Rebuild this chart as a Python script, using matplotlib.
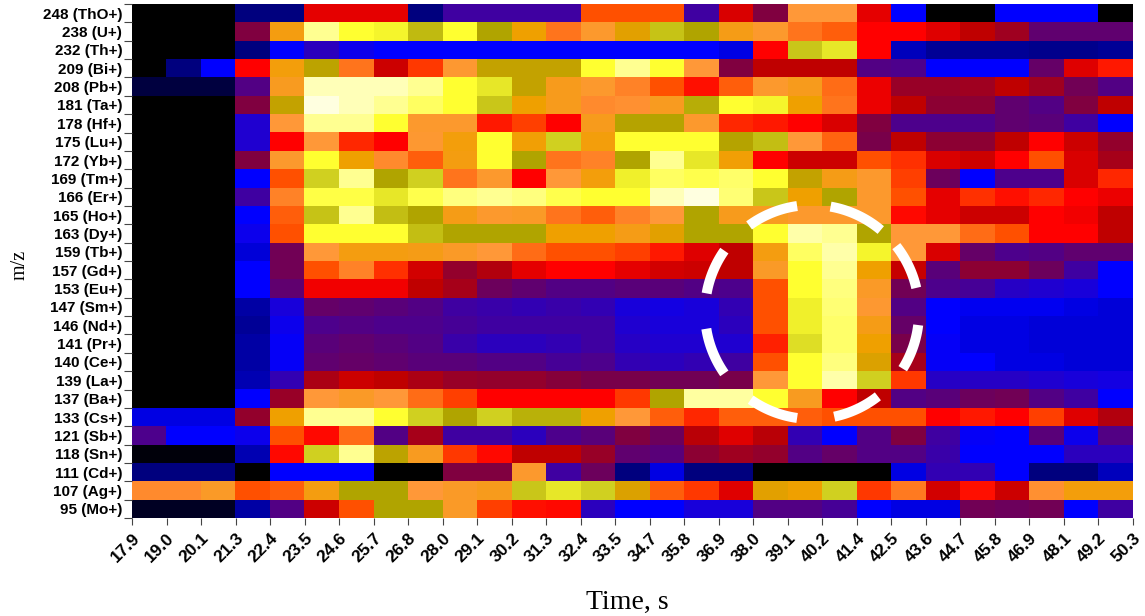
import numpy as np
import matplotlib.pyplot as plt
from matplotlib.colors import LinearSegmentedColormap

plt.rcParams['font.family'] = ['Liberation Sans', 'DejaVu Sans']

times = ['17.9', '19.0', '20.1', '21.3', '22.4', '23.5', '24.6', '25.7', '26.8', '28.0',
         '29.1', '30.2', '31.3', '32.4', '33.5', '34.7', '35.8', '36.9', '38.0', '39.1',
         '40.2', '41.4', '42.5', '43.6', '44.7', '45.8', '46.9', '48.1', '49.2', '50.3']

ions = ['248 (ThO+)', '238 (U+)', '232 (Th+)', '209 (Bi+)', '208 (Pb+)', '181 (Ta+)', '178 (Hf+)',
        '175 (Lu+)', '172 (Yb+)', '169 (Tm+)', '166 (Er+)', '165 (Ho+)', '163 (Dy+)', '159 (Tb+)',
        '157 (Gd+)', '153 (Eu+)', '147 (Sm+)', '146 (Nd+)', '141 (Pr+)', '140 (Ce+)', '139 (La+)',
        '137 (Ba+)', '133 (Cs+)', '121 (Sb+)', '118 (Sn+)', '111 (Cd+)', '107 (Ag+)', '95 (Mo+)']

# intensity levels, one row per ion, on the colour scale below
intensity = [
    [0, 0, 0, 1, 1, 5.6, 5.6, 5.6, 1, 3, 3, 3, 3, 7, 7, 7, 3, 5.4, 4, 8, 8, 5.6, 2, 0, 0, 2, 2, 2, 0],
    [0, 0, 0, 4, 8.7, 13, 12, 11.8, 10.5, 12, 10, 9, 7.5, 8.2, 9.2, 10.7, 10, 8.6, 8.2, 7.5, 7.2, 6, 6, 5.5, 5, 4.5, 3.5, 3.5, 3.5],
    [0, 0, 0, 1, 2, 2.7, 2.2, 2, 2, 2, 2, 2, 2, 2, 2, 2, 2, 1.8, 6, 10.8, 11.5, 6, 1.5, 1.2, 1.2, 1.2, 1.1, 1.1, 1.2],
    [0, 1, 2, 6, 8.8, 9.8, 7.5, 5.2, 6.7, 8.1, 9.7, 9.7, 9.7, 12, 13, 12, 8, 4, 5, 5, 5, 3.3, 3.2, 2, 2, 2, 3.6, 5.5, 6.3],
    [0.5, 0.5, 0.5, 3.3, 8.4, 13.5, 13.5, 13.5, 13, 12, 11.5, 9.7, 8.5, 8.2, 7.7, 7, 6.2, 7.2, 8.2, 8.5, 7.4, 5.7, 4.4, 4.4, 4.5, 5, 4.5, 3.8, 3.3],
    [0, 0, 0, 4, 9.7, 14, 13.5, 13, 12.5, 12, 10.8, 9, 8.5, 7.8, 7.9, 8.4, 10.2, 12, 11.8, 9, 7.5, 5.7, 5, 4.2, 4.2, 3.5, 3.3, 4, 5],
    [0, 0, 0, 2.5, 8, 13, 13, 12, 8.2, 8.2, 6.3, 6.8, 6, 8.5, 9.9, 9.9, 8.2, 6.5, 6.3, 6, 5.4, 4, 3.2, 3.2, 3.2, 3.5, 3.4, 3, 2],
    [0, 0, 0, 2.5, 6, 8, 6.5, 6, 8.1, 8.8, 12, 8.9, 11, 8.8, 12, 12, 12, 9.9, 10.6, 8, 7.3, 3.9, 5, 4.2, 4.2, 5, 6, 5.2, 4.3],
    [0, 0, 0, 4, 8.2, 12, 9, 7.8, 7.2, 8.7, 12, 10, 7.5, 7.7, 10, 13, 11.5, 8.9, 6, 5.2, 5.2, 7, 6.6, 5.4, 5.2, 6, 7, 5.4, 4.6],
    [0, 0, 0, 2, 7, 11, 13, 10, 11, 7.5, 8.2, 6, 8, 8.8, 11.7, 12.5, 12.3, 12.6, 12, 9.7, 8.6, 8.2, 6.8, 3.7, 2, 3.2, 3.2, 5.4, 6.5],
    [0, 0, 0, 3, 7.7, 12.2, 12.2, 11.5, 12.3, 12.8, 13, 12.8, 12.3, 12, 12, 13.5, 14, 12.7, 10.8, 9, 10, 8.2, 7, 5.6, 6.6, 6.2, 6.5, 6, 5.7],
    [0, 0, 0, 2, 7.2, 10.7, 13, 10.6, 10, 8.6, 8.2, 8.3, 7.5, 7.2, 7.7, 8, 10, 8.5, 8.4, 8.2, 8.2, 8.2, 6.1, 5.6, 5.2, 5.2, 6, 5.8, 5],
    [0, 0, 0, 2.2, 7, 12, 12, 12, 10.6, 10, 10, 10, 9, 9, 8.6, 9.2, 10, 10, 12, 13.3, 13, 10, 8, 8, 7.4, 7, 6, 6, 5],
    [0, 0, 0, 1.7, 3.8, 8, 8.7, 8.7, 8.6, 8.3, 8, 7.4, 7, 7, 6.8, 6.3, 5.5, 5, 8.7, 12.5, 13.3, 11.8, 8, 5.4, 3.6, 3.2, 3.3, 3.5, 3.5],
    [0, 0, 0, 2, 3.8, 7, 7.7, 6.6, 5.3, 4.3, 4.8, 5.6, 6, 6, 5.6, 5.3, 5.2, 5, 8.3, 12, 13, 9, 5.1, 3.4, 4.2, 4.2, 3.7, 3, 2],
    [0, 0, 0, 2, 3.5, 5.8, 5.8, 5.8, 5, 4.6, 3.7, 3.5, 3.3, 3.3, 3.4, 3.4, 3.3, 3.2, 7, 12, 12.8, 8.3, 3.8, 3.2, 3.1, 2.6, 2.5, 2.4, 2],
    [0, 0, 0, 1.3, 2.4, 3.6, 3.5, 3.4, 3.3, 3, 2.9, 2.8, 2.9, 2.8, 2.4, 2.3, 2.4, 2.8, 7, 11.7, 12.7, 8.1, 3.3, 2, 1.9, 1.9, 1.9, 1.8, 1.7],
    [0, 0, 0, 1.2, 2.2, 3.2, 3.3, 3.2, 3.2, 3.1, 3, 3, 3, 3, 2.5, 2.4, 2.4, 2.7, 7, 11.7, 12.6, 8.6, 3.6, 2, 1.8, 1.8, 1.7, 1.7, 1.7],
    [0, 0, 0, 1.3, 2.1, 3.4, 3.5, 3.4, 3.3, 2.9, 2.7, 2.7, 2.8, 3, 2.6, 2.5, 2.5, 2.5, 6.4, 11.3, 12.6, 9, 3.9, 2.1, 1.8, 1.8, 1.7, 1.7, 1.7],
    [0, 0, 0, 1.3, 2.1, 3.5, 3.6, 3.5, 3.4, 3.4, 3.3, 3.3, 3.1, 3.2, 2.8, 2.7, 2.8, 3, 7, 12, 12.8, 9.3, 4.6, 2.1, 2, 1.8, 1.8, 1.7, 1.7],
    [0, 0, 0, 1.4, 2.8, 4.7, 5.2, 5, 4.7, 4.4, 4.3, 4.3, 4.1, 3.9, 3.9, 3.8, 3.8, 3.9, 8, 12, 13.3, 11, 6.7, 2.6, 2.6, 2.6, 2.5, 2.4, 2.3],
    [0, 0, 0, 2, 4.4, 8, 8.3, 8, 7.4, 6.8, 6, 6, 6, 6, 6.7, 10, 13.2, 13.2, 12, 8.4, 6, 5, 3.3, 3.4, 3.7, 3.8, 3.3, 3, 2],
    [1.8, 1.8, 1.8, 4.3, 9, 13, 13, 12, 11, 10, 11, 10.3, 10.3, 9, 8, 7.2, 6.5, 7.2, 7.2, 7.2, 7, 7, 7, 6, 6.3, 6, 6.8, 5.5, 4.8],
    [3.2, 2, 2, 2.2, 7, 6.1, 7.4, 3.3, 4.6, 3, 3, 2.7, 3.2, 3.4, 4, 3.7, 4.9, 5.5, 4.9, 2.8, 2, 3.3, 4, 3, 2.1, 2, 3.4, 2.2, 3.3],
    [0.1, 0.1, 0.1, 1.4, 6.1, 11, 13, 9.8, 8.4, 6.7, 6.1, 5, 5, 4.4, 3.5, 3.4, 4.2, 4.5, 4.3, 3.3, 3.6, 3.3, 3.3, 2.9, 2, 2, 2, 2.7, 2.7],
    [1, 1, 1, 0, 2, 2, 2, 0, 0, 4, 4, 8.2, 3, 3.7, 1, 1.8, 1, 1, 0, 0, 0, 0, 1.8, 2.8, 2.8, 2, 1, 1, 1.5],
    [7.8, 7.8, 8.3, 7, 7.2, 8.7, 10, 10, 8, 8.3, 8.5, 10.8, 11.5, 11, 9.3, 7.2, 6.7, 5.5, 9.2, 9, 11, 6.7, 7.6, 5.3, 6.2, 5.2, 7.9, 8.8, 8.8],
    [0.3, 0.3, 0.3, 1.3, 3.3, 5.2, 7, 10, 10, 8.3, 6.8, 6.2, 6.1, 2.7, 2, 2, 2.4, 2.4, 3.3, 3.3, 3.1, 2, 1.8, 1.8, 3.8, 3.7, 3.8, 2, 3],
]

# colour scale, one colour per level 0..14
scale_colors = ['#000000', '#000080', '#0000ff', '#4000a0', '#800040', '#c00000', '#ff0000',
                '#ff5000', '#ff9838', '#f0a000', '#b0a400', '#d0d020', '#ffff30', '#ffff90', '#ffffe0']

# white dashed ring drawn over the figure: centre and radius in pixels, dash ends in degrees
ring_center = (812, 312)
ring_radius = 107
ring_dashes = [(13, 38), (50, 80), (98, 126), (145, 170), (189, 215), (235, 262), (282, 308), (328, 353)]

cmap = LinearSegmentedColormap.from_list('ms', scale_colors, N=512)

W, H = 1145, 616
fig = plt.figure(figsize=(W / 100, H / 100), dpi=100)
ax = fig.add_axes([132 / W, 1 - 518 / H, (1133 - 132) / W, (518 - 4) / H])

data = np.array(intensity)
ax.imshow(data, cmap=cmap, vmin=0, vmax=14, aspect='auto', interpolation='nearest',
          extent=(0, data.shape[1], data.shape[0], 0))

for s in ax.spines.values():
    s.set_visible(False)

ax.set_xticks(np.arange(len(times)))
ax.set_xticklabels(times, rotation=45, ha='right', rotation_mode='anchor',
                   fontsize=12.5, fontweight='bold')
ax.tick_params(axis='x', length=5, width=0.8, color='#444444', pad=4)

# y ticks sit on the row edges, labels in the middle of the rows
ax.set_yticks(np.arange(len(ions) + 1))
ax.set_yticklabels([])
ax.set_yticks(np.arange(len(ions)) + 0.5, minor=True)
ax.set_yticklabels(ions, minor=True, fontsize=11, fontweight='bold')
ax.tick_params(axis='y', which='major', length=6, width=0.8, color='#444444')
ax.tick_params(axis='y', which='minor', length=0, pad=7)

fig.text(627 / W, 1 - 602 / H, 'Time, s', family='Liberation Serif', fontsize=20,
         ha='center', va='center')
fig.text(20 / W, 1 - 265 / H, 'm/z', family='Liberation Serif', fontsize=14.5,
         rotation=90, ha='center', va='center')

overlay = fig.add_axes([0, 0, 1, 1])
overlay.set_xlim(0, W)
overlay.set_ylim(H, 0)
overlay.axis('off')
for start, end in ring_dashes:
    a = np.radians(np.linspace(start, end, 40))
    overlay.plot(ring_center[0] + ring_radius * np.cos(a), ring_center[1] - ring_radius * np.sin(a),
                 color='white', lw=7.2, solid_capstyle='butt')

fig.savefig('out.png', dpi=100)
